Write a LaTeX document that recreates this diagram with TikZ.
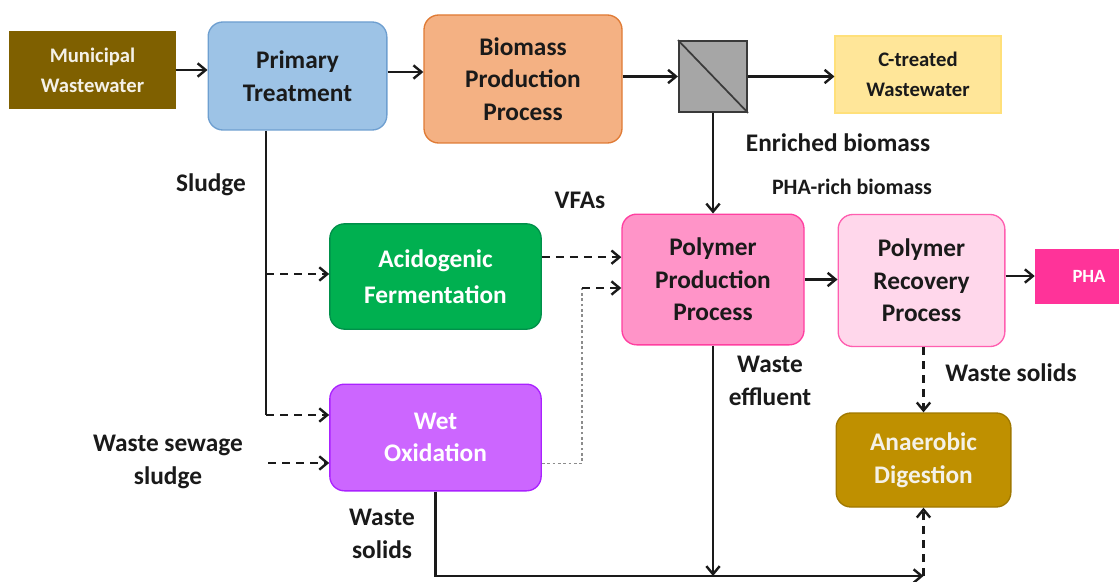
\documentclass[tikz,border=0pt]{standalone}
\usepackage{fontspec}
\setmainfont{Carlito}
\usetikzlibrary{arrows.meta}
\definecolor{txt}{HTML}{1A1A1A}
\definecolor{muniF}{HTML}{7F6000}
\definecolor{primF}{HTML}{9DC3E6}
\definecolor{primD}{HTML}{6E9FD0}
\definecolor{bioF}{HTML}{F4B183}
\definecolor{bioD}{HTML}{E07B35}
\definecolor{memF}{HTML}{A6A6A6}
\definecolor{memD}{HTML}{3A3A3A}
\definecolor{ctF}{HTML}{FFE699}
\definecolor{ctD}{HTML}{FFE07A}
\definecolor{acidF}{HTML}{00B050}
\definecolor{acidD}{HTML}{00904A}
\definecolor{wetF}{HTML}{CC66FF}
\definecolor{wetD}{HTML}{AA22FF}
\definecolor{polyF}{HTML}{FF94C8}
\definecolor{polyD}{HTML}{FF3FA0}
\definecolor{recF}{HTML}{FFD7EB}
\definecolor{recD}{HTML}{FF5FB0}
\definecolor{phaF}{HTML}{FF3399}
\definecolor{anaF}{HTML}{BF9000}
\definecolor{anaD}{HTML}{A07800}
\definecolor{lightT}{HTML}{F4F1E8}
\tikzset{
  bigfont/.style={font=\fontsize{19}{24.5}\selectfont\bfseries},
  smallfont/.style={font=\fontsize{15.5}{22.5}\selectfont\bfseries},
  proc/.style={rounded corners=11pt, line width=1pt, align=center, inner sep=0pt, bigfont, text=txt},
  flat/.style={line width=0.8pt, align=center, inner sep=0pt, smallfont},
  lab/.style={bigfont, text=txt, align=center, inner sep=0pt},
  conn/.style={line width=1.8pt, draw=txt},
  arr/.style={conn, -{Straight Barb[length=6pt,width=10pt]}},
  dasharr/.style={arr, dash pattern=on 6pt off 4.5pt},
  dotline/.style={line width=1.3pt, draw=gray!90, dash pattern=on 2pt off 2pt}
}
\begin{document}
\begin{tikzpicture}[x=0.75pt,y=-0.75pt]
\useasboundingbox (0,0) rectangle (1119,581);
\clip (0,0) rectangle (1119,581);
\fill[white] (0,0) rectangle (1119,581);

% nodes
\node[flat, fill=muniF, draw=muniF, text=lightT, minimum width=124pt, minimum height=57pt] (muni) at (92.5,70) {Municipal\\Wastewater};
\node[proc, fill=primF, draw=primD, minimum width=134pt, minimum height=81pt] (prim) at (297.5,76) {Primary\\Treatment};
\node[proc, fill=bioF, draw=bioD, minimum width=148.5pt, minimum height=96pt] (bio) at (523,79) {Biomass\\Production\\Process};
\node[draw=memD, fill=memF, line width=1.6pt, minimum width=51pt, minimum height=53pt, inner sep=0pt] (mem) at (713,76.5) {};
\node[flat, fill=ctF, draw=ctD, text=txt, minimum width=124.5pt, minimum height=57.75pt] (ct) at (918,74.5) {C-treated\\Wastewater};

\node[proc, fill=acidF, draw=acidD, text=white, minimum width=158.5pt, minimum height=79pt, font=\fontsize{19}{27}\selectfont\bfseries] (acid) at (435.5,276.5) {Acidogenic\\Fermentation};
\node[proc, fill=wetF, draw=wetD, text=white, minimum width=158.5pt, minimum height=80pt] (wet) at (435.5,437.5) {Wet\\Oxidation};
\node[proc, fill=polyF, draw=polyD, minimum width=136.5pt, minimum height=98pt] (poly) at (713,279.5) {Polymer\\Production\\Process};
\node[proc, fill=recF, draw=recD, minimum width=125pt, minimum height=99pt] (rec) at (921.5,280.5) {Polymer\\Recovery\\Process};
\node[fill=phaF, draw=phaF, text=white, minimum width=81pt, minimum height=40.5pt, inner sep=0pt, font=\fontsize{14}{16}\selectfont\bfseries] (pha) at (1089,276) {PHA};
\node[proc, fill=anaF, draw=anaD, text=lightT, minimum width=131pt, minimum height=70.5pt] (ana) at (923.5,460) {Anaerobic\\Digestion};

% labels
\node[lab] (lsludge) at (211,185) {Sludge};
\node[lab] (lvfa) at (580,200) {VFAs};
\node[lab] (lenr) at (838,143) {Enriched biomass};
\node[lab, font=\fontsize{16.5}{20}\selectfont\bfseries] (lpha) at (852,187) {PHA-rich biomass};
\node[lab] (lwss) at (168,462) {Waste sewage\\sludge};
\node[lab] (lws1) at (382,534) {Waste\\solids};
\node[lab] (lwe) at (770,381) {Waste\\effluent};
\node[lab] (lws2) at (1011,373) {Waste solids};

% membrane diagonal
\draw[line width=1.3pt, draw=memD] (mem.north west) -- (mem.south east);

% top row connectors
\draw[arr] (muni.east) -- (prim.west |- muni.east);
\draw[arr] ([yshift=3pt]prim.east) -- ([yshift=3pt]prim.east -| bio.west);
\draw[arr] (bio.east |- mem.west) -- (mem.west);
\draw[arr] (mem.east) -- (ct.west |- mem.east);
\draw[arr] (mem.south) -- (poly.north);

% sludge branch
\coordinate (s1) at (266,274);
\coordinate (s2) at (266,415);
\draw[conn] (prim.south -| s1) -- (s2);
\draw[dasharr] (s1) -- (acid.west |- s1);
\draw[dasharr] (s2) -- (wet.west |- s2);
\coordinate (w0) at (268,463);
\draw[dasharr] (w0) -- (wet.west |- w0);

% to polymer production
\path ([yshift=14.5pt]acid.east) coordinate (a1);
\draw[dasharr] (a1) -- (poly.west |- a1);
\path ([yshift=-19.5pt]wet.east) coordinate (w1);
\coordinate (w2) at (582,288);
\draw[dotline] (w1) -- (w1 -| w2) -- (w2);
\draw[dasharr] (w2) -- (poly.west |- w2);

% right side
\draw[arr] (poly.east) -- (rec.west |- poly.east);
\draw[arr] (rec.east |- pha.west) -- (pha.west);
\draw[dasharr] (rec.south -| ana.north) -- (ana.north);

% bottom
\coordinate (bot) at (923.5,576);
\draw[arr] (wet.south) |- (bot);
\draw[arr] (poly.south) -- (poly.south |- bot);
\draw[dasharr] (bot) -- (ana.south);
\end{tikzpicture}
\end{document}
